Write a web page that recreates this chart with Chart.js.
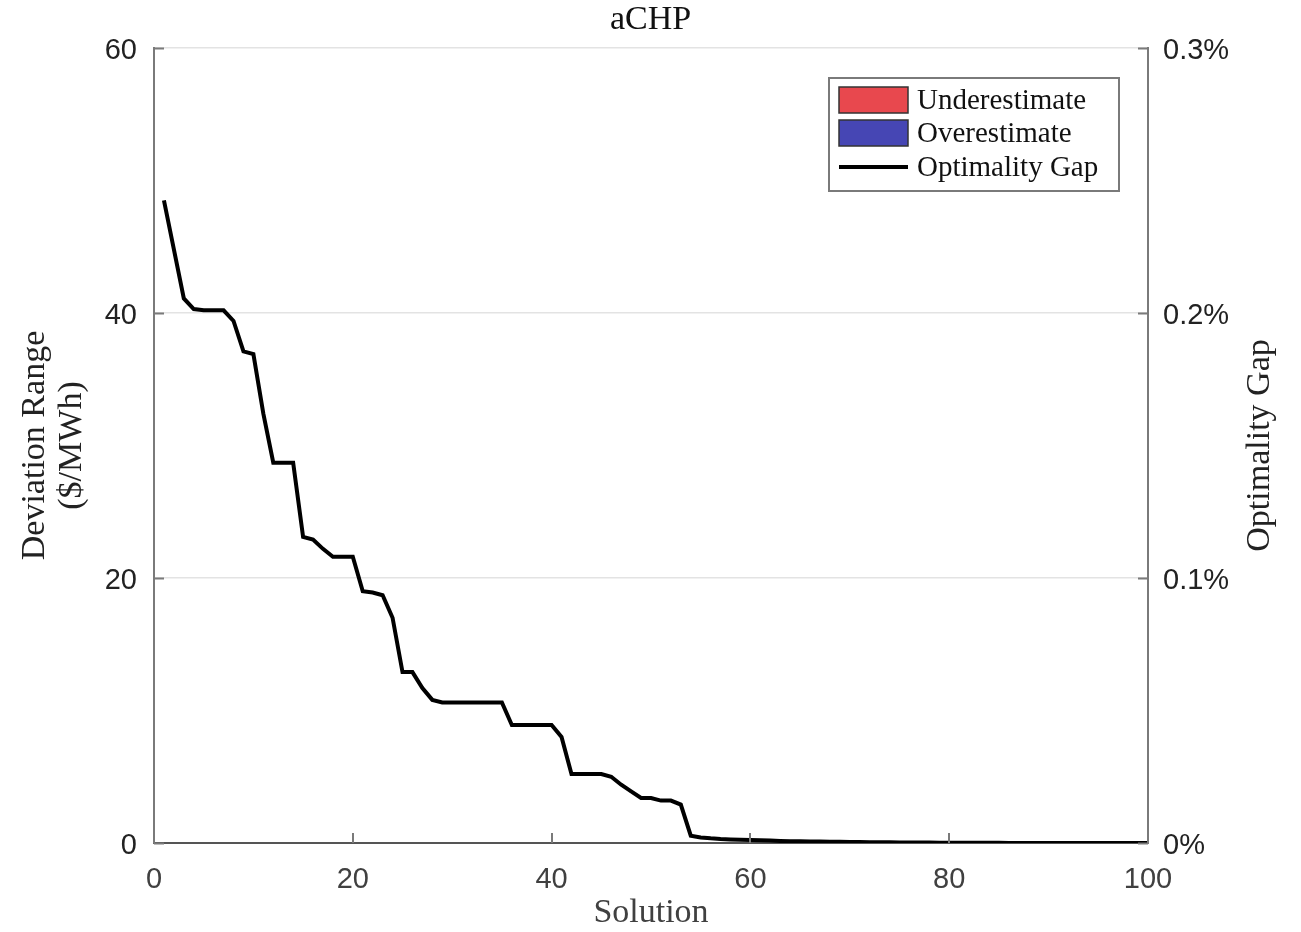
<!DOCTYPE html>
<html>
<head>
<meta charset="utf-8">
<script src="https://cdn.jsdelivr.net/npm/chart.js@4"></script>
<style>
  html, body { margin: 0; padding: 0; background: #fff; }
  #wrap { width: 1301px; height: 932px; }
</style>
</head>
<body>
<div id="wrap"><canvas id="myChart" width="1301" height="932"></canvas></div>
<script>
// solution index 1..100
const solutions = Array.from({ length: 100 }, (_, i) => i + 1);

// optimality gap in percent
const gapPct = [
  0.2425, 0.224, 0.2055, 0.2015, 0.201, 0.201, 0.201, 0.197, 0.1855, 0.1845,
  0.162, 0.1435, 0.1435, 0.1435, 0.1155, 0.1145, 0.111, 0.108, 0.108, 0.108,
  0.095, 0.0945, 0.0935, 0.085, 0.0645, 0.0645, 0.0585, 0.054, 0.053, 0.053,
  0.053, 0.053, 0.053, 0.053, 0.053, 0.0445, 0.0445, 0.0445, 0.0445, 0.0445,
  0.04, 0.026, 0.026, 0.026, 0.026, 0.025, 0.022, 0.0195, 0.017, 0.017,
  0.016, 0.016, 0.0145, 0.00275, 0.0021, 0.00175, 0.0015, 0.00135, 0.0012, 0.0011,
  0.001, 0.0009, 0.0008, 0.0007, 0.00065, 0.0006, 0.00055, 0.0005, 0.00045, 0.0004,
  0.00035, 0.0003, 0.00025, 0.00025, 0.0002, 0.0002, 0.00015, 0.00015, 0.0001, 0.0001,
  0.0001, 0.00005, 0.00005, 0.00005, 0.00005, 0, 0, 0, 0, 0,
  0, 0, 0, 0, 0, 0, 0, 0, 0, 0
];

// deviation ranges (none visible in this panel)
const underestimate = [];
const overestimate = [];

const xTicks = [0, 20, 40, 60, 80, 100];
const yTicks = [0, 20, 40, 60];
const gapTicks = [0, 0.1, 0.2, 0.3];
const gapTitle = "Optimality Gap";

const serif = "'Liberation Serif', 'DejaVu Serif', serif";
const sans = "'Liberation Sans', Arial, sans-serif";

// MATLAB-style inward ticks, right axis title (reads bottom-up) and a boxed legend
const matlabBits = {
  id: "matlabBits",
  afterDraw(chart) {
    const c = chart.ctx;
    const area = chart.chartArea;
    const sx = chart.scales.x, sy = chart.scales.y, sg = chart.scales.y1;
    c.save();
    c.strokeStyle = "#7a7a7a";
    c.lineWidth = 2;
    c.beginPath();
    yTicks.forEach(v => {
      const p = Math.round(sy.getPixelForValue(v)) + 0.5;
      c.moveTo(area.left, p); c.lineTo(area.left + 10, p);
    });
    gapTicks.forEach(v => {
      const p = Math.round(sg.getPixelForValue(v)) + 0.5;
      c.moveTo(area.right, p); c.lineTo(area.right - 10, p);
    });
    xTicks.forEach(v => {
      const p = Math.round(sx.getPixelForValue(v));
      c.moveTo(p, area.bottom); c.lineTo(p, area.bottom - 10);
    });
    c.stroke();

    // right axis title
    c.save();
    c.translate(1260, (area.top + area.bottom) / 2);
    c.rotate(-Math.PI / 2);
    c.font = "34px " + serif;
    c.fillStyle = "#222";
    c.textAlign = "center";
    c.textBaseline = "middle";
    c.fillText(gapTitle, 0, 0);
    c.restore();

    // legend
    const lx = 829, ly = 78, lw = 290, lh = 113;
    c.fillStyle = "#fff";
    c.fillRect(lx, ly, lw, lh);
    c.strokeStyle = "#7a7a7a";
    c.lineWidth = 2;
    c.strokeRect(lx, ly, lw, lh);
    c.font = "29px " + serif;
    c.textBaseline = "middle";
    const rows = [ly + 22, ly + 55, ly + 89];
    chart.data.datasets.forEach((ds, i) => {
      const cy = rows[i];
      if (ds.type === "bar") {
        c.fillStyle = ds.backgroundColor;
        c.fillRect(839, cy - 13, 69, 26);
        c.strokeStyle = "#333";
        c.lineWidth = 1.5;
        c.strokeRect(839, cy - 13, 69, 26);
      } else {
        c.strokeStyle = ds.borderColor;
        c.lineWidth = 4;
        c.beginPath();
        c.moveTo(839, cy); c.lineTo(908, cy);
        c.stroke();
      }
      c.fillStyle = "#111";
      c.fillText(ds.label, 917, cy + 1);
    });
    c.restore();
  }
};

const ctx = document.getElementById("myChart").getContext("2d");
const myChart = new Chart(ctx, {
  data: {
    datasets: [
      {
        type: "bar",
        label: "Underestimate",
        data: underestimate,
        backgroundColor: "#e8484e",
        yAxisID: "y",
      },
      {
        type: "bar",
        label: "Overestimate",
        data: overestimate,
        backgroundColor: "#4646b4",
        yAxisID: "y",
      },
      {
        type: "line",
        label: "Optimality Gap",
        data: solutions.map((s, i) => ({ x: s, y: gapPct[i] })),
        borderColor: "#000",
        borderWidth: 4,
        pointRadius: 0,
        tension: 0,
        yAxisID: "y1",
      },
    ],
  },
  options: {
    responsive: false,
    animation: false,
    layout: { padding: 0 },
    plugins: {
      legend: { display: false },
      tooltip: { enabled: false },
      title: {
        display: true,
        text: "aCHP",
        color: "#111",
        font: { family: serif, size: 34, weight: "normal", lineHeight: 1.2 },
        padding: { top: 0, bottom: 7.2 },
      },
    },
    scales: {
      x: {
        type: "linear",
        min: 0,
        max: 100,
        offset: false,
        afterBuildTicks: s => { s.ticks = xTicks.map(v => ({ value: v })); },
        afterFit: s => { s.height = 89; },
        grid: { display: false, drawTicks: false, offset: false },
        border: { display: true, color: "#555", width: 2 },
        ticks: { color: "#404040", padding: 20, font: { family: sans, size: 29, lineHeight: 1.2 } },
        title: {
          display: true,
          text: "Solution",
          color: "#404040",
          font: { family: serif, size: 34, lineHeight: 1.1 },
          padding: { top: 0, bottom: 0 },
        },
      },
      y: {
        position: "left",
        min: 0,
        max: 60,
        afterBuildTicks: s => { s.ticks = yTicks.map(v => ({ value: v })); },
        afterFit: s => { s.width = 154; },
        grid: { color: "#e3e3e3", lineWidth: 1.5, drawTicks: false },
        border: { display: true, color: "#7a7a7a", width: 2 },
        ticks: { color: "#222", padding: 17, labelOffset: 3, font: { family: sans, size: 29 } },
        title: {
          display: true,
          text: ["Deviation Range", "($/MWh)"],
          color: "#222",
          font: { family: serif, size: 34, lineHeight: 1.1 },
          padding: { top: 16.3, bottom: 0 },
        },
      },
      y1: {
        position: "right",
        min: 0,
        max: 0.3,
        afterBuildTicks: s => { s.ticks = gapTicks.map(v => ({ value: v })); },
        afterFit: s => { s.width = 153; },
        grid: { display: false, drawTicks: false },
        border: { display: true, color: "#7a7a7a", width: 2 },
        ticks: {
          color: "#222",
          padding: 15,
          labelOffset: 3,
          font: { family: sans, size: 29 },
          callback: v => (v === 0 ? "0%" : v.toFixed(1) + "%"),
        },
        title: { display: false },
      },
    },
  },
  plugins: [matlabBits],
});
</script>
</body>
</html>
